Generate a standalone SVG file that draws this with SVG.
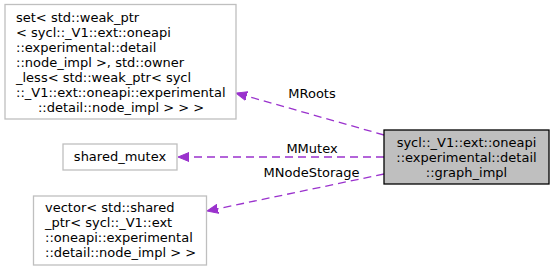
<svg xmlns="http://www.w3.org/2000/svg" width="553" height="271" viewBox="0 0 553 271">
  <style>
    text { font-family: "DejaVu Sans", "Liberation Sans", sans-serif; font-size: 13px; fill: #000; }
    .node { fill: #ffffff; stroke: #bfbfbf; stroke-width: 1.3; }
    .main { fill: #bfbfbf; stroke: #000000; stroke-width: 1.3; }
    .edge { fill: none; stroke: #9a32cd; stroke-width: 1.3; stroke-dasharray: 8,5; }
    .mid { text-anchor: middle; }
  </style>
  <defs>
    <marker id="arrow" markerWidth="12" markerHeight="10" refX="11" refY="5" orient="auto" markerUnits="userSpaceOnUse">
      <polygon points="0,0.5 11,5 0,9.5" fill="#9a32cd" stroke="#9a32cd" stroke-width="1"/>
    </marker>
  </defs>

  <rect width="553" height="271" fill="#ffffff"/>

  <!-- member relations -->
  <g id="connectors">
    <path class="edge" d="M384,135 L236,93" marker-end="url(#arrow)"/>
    <text class="mid" x="312" y="98">MRoots</text>
    <path class="edge" d="M384,157 L178,157" marker-end="url(#arrow)"/>
    <text class="mid" x="312" y="152.5">MMutex</text>
    <path class="edge" d="M384,174 L207,211" marker-end="url(#arrow)"/>
    <text class="mid" x="311.5" y="176.5">MNodeStorage</text>
  </g>

  <g id="node-graph_impl">
    <rect class="main" x="384" y="130" width="165" height="54"/>
    <text class="mid" x="466.5" y="146.5">sycl::_V1::ext::oneapi</text>
    <text class="mid" x="466.5" y="161.5">::experimental::detail</text>
    <text class="mid" x="466.5" y="176.5">::graph_impl</text>
  </g>

  <g id="node-roots">
    <rect class="node" x="5" y="4.5" width="231" height="114.5"/>
    <text x="16" y="21.5">set&lt; std::weak_ptr</text>
    <text x="16" y="36.5">&lt; sycl::_V1::ext::oneapi</text>
    <text x="16" y="51.5">::experimental::detail</text>
    <text x="16" y="66.5">::node_impl &gt;, std::owner</text>
    <text x="16" y="81.5">_less&lt; std::weak_ptr&lt; sycl</text>
    <text x="16" y="96.5">::_V1::ext::oneapi::experimental</text>
    <text class="mid" x="121" y="111.5">::detail::node_impl &gt; &gt; &gt;</text>
  </g>

  <g id="node-shared_mutex">
    <rect class="node" x="63" y="144" width="114" height="26"/>
    <text class="mid" x="120" y="161">shared_mutex</text>
  </g>

  <g id="node-node_storage">
    <rect class="node" x="33.5" y="196" width="173" height="69"/>
    <text x="45" y="211.5">vector&lt; std::shared</text>
    <text x="45" y="226.5">_ptr&lt; sycl::_V1::ext</text>
    <text x="45" y="241.5">::oneapi::experimental</text>
    <text x="45" y="256.5">::detail::node_impl &gt; &gt;</text>
  </g>
</svg>
